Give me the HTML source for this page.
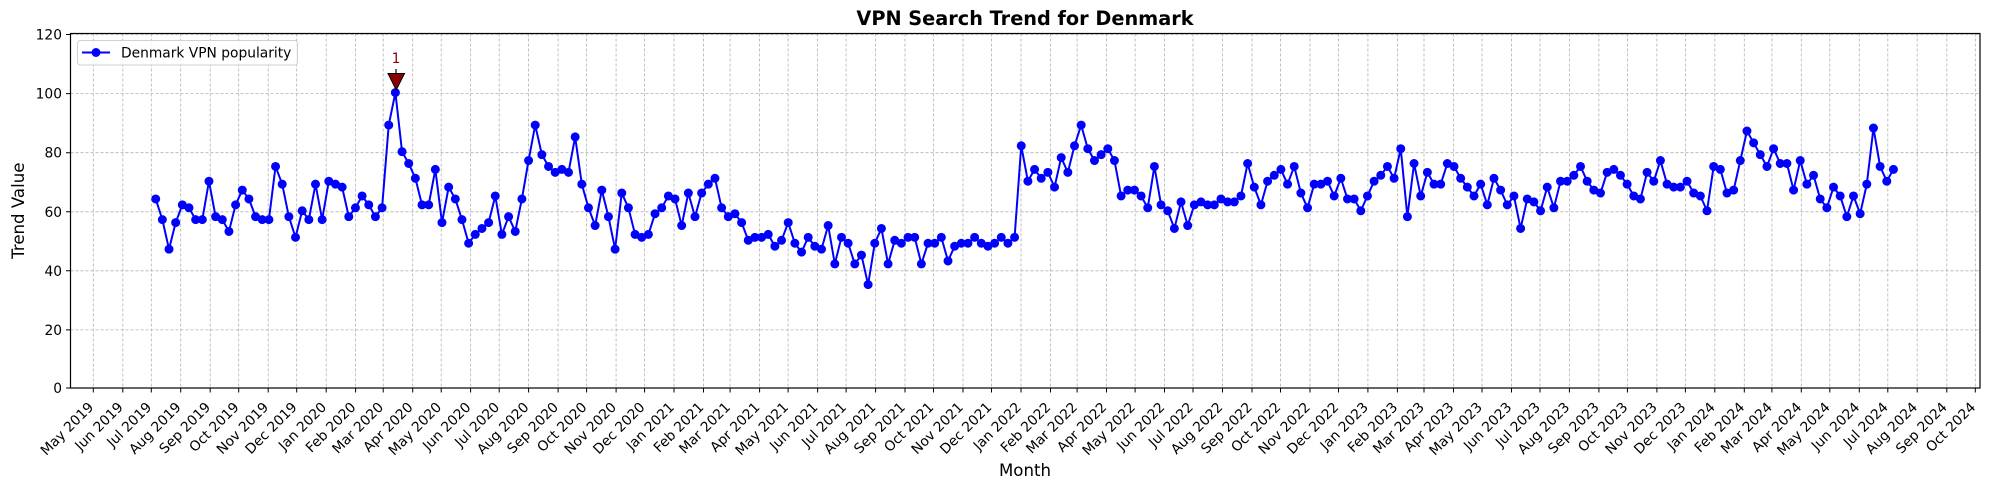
<!DOCTYPE html>
<html><head><meta charset="utf-8"><style>
html,body{margin:0;padding:0;background:#fff;}
svg{display:block;font-family:"DejaVu Sans","Liberation Sans",sans-serif;}
</style></head><body>
<svg width="1990" height="490" viewBox="0 0 1990 490" xmlns="http://www.w3.org/2000/svg">
<rect width="1990" height="490" fill="#fff"/>
<!-- grid -->
<g stroke="#b0b0b0" stroke-width="0.8" stroke-dasharray="3,2" fill="none">
<path d="M70.5 329.9H1980M70.5 270.8H1980M70.5 211.8H1980M70.5 152.7H1980M70.5 93.6H1980M70.5 34.5H1980"/>
<path d="M93.3 33.5V388M122.8 33.5V388M151.3 33.5V388M180.7 33.5V388M210.2 33.5V388M238.7 33.5V388M268.2 33.5V388M296.7 33.5V388M326.2 33.5V388M355.6 33.5V388M383.2 33.5V388M412.7 33.5V388M441.2 33.5V388M470.6 33.5V388M499.2 33.5V388M528.6 33.5V388M558.1 33.5V388M586.6 33.5V388M616.1 33.5V388M644.6 33.5V388M674 33.5V388M703.5 33.5V388M730.1 33.5V388M759.6 33.5V388M788.1 33.5V388M817.6 33.5V388M846.1 33.5V388M875.6 33.5V388M905 33.5V388M933.5 33.5V388M963 33.5V388M991.5 33.5V388M1021 33.5V388M1050.5 33.5V388M1077.1 33.5V388M1106.5 33.5V388M1135.1 33.5V388M1164.5 33.5V388M1193 33.5V388M1222.5 33.5V388M1252 33.5V388M1280.5 33.5V388M1310 33.5V388M1338.5 33.5V388M1367.9 33.5V388M1397.4 33.5V388M1424 33.5V388M1453.5 33.5V388M1482 33.5V388M1511.5 33.5V388M1540 33.5V388M1569.4 33.5V388M1598.9 33.5V388M1627.4 33.5V388M1656.9 33.5V388M1685.4 33.5V388M1714.8 33.5V388M1744.3 33.5V388M1771.9 33.5V388M1801.3 33.5V388M1829.8 33.5V388M1859.3 33.5V388M1887.8 33.5V388M1917.2 33.5V388M1946.8 33.5V388M1975.3 33.5V388"/>
</g>
<!-- series -->
<g transform="translate(155.7,388) scale(6.658,-2.954)">
<polyline fill="none" stroke="#0000ff" stroke-width="2" vector-effect="non-scaling-stroke" stroke-linejoin="round" points="0,64 1,57 2,47 3,56 4,62 5,61 6,57 7,57 8,70 9,58 10,57 11,53 12,62 13,67 14,64 15,58 16,57 17,57 18,75 19,69 20,58 21,51 22,60 23,57 24,69 25,57 26,70 27,69 28,68 29,58 30,61 31,65 32,62 33,58 34,61 35,89 36,100 37,80 38,76 39,71 40,62 41,62 42,74 43,56 44,68 45,64 46,57 47,49 48,52 49,54 50,56 51,65 52,52 53,58 54,53 55,64 56,77 57,89 58,79 59,75 60,73 61,74 62,73 63,85 64,69 65,61 66,55 67,67 68,58 69,47 70,66 71,61 72,52 73,51 74,52 75,59 76,61 77,65 78,64 79,55 80,66 81,58 82,66 83,69 84,71 85,61 86,58 87,59 88,56 89,50 90,51 91,51 92,52 93,48 94,50 95,56 96,49 97,46 98,51 99,48 100,47 101,55 102,42 103,51 104,49 105,42 106,45 107,35 108,49 109,54 110,42 111,50 112,49 113,51 114,51 115,42 116,49 117,49 118,51 119,43 120,48 121,49 122,49 123,51 124,49 125,48 126,49 127,51 128,49 129,51 130,82 131,70 132,74 133,71 134,73 135,68 136,78 137,73 138,82 139,89 140,81 141,77 142,79 143,81 144,77 145,65 146,67 147,67 148,65 149,61 150,75 151,62 152,60 153,54 154,63 155,55 156,62 157,63 158,62 159,62 160,64 161,63 162,63 163,65 164,76 165,68 166,62 167,70 168,72 169,74 170,69 171,75 172,66 173,61 174,69 175,69 176,70 177,65 178,71 179,64 180,64 181,60 182,65 183,70 184,72 185,75 186,71 187,81 188,58 189,76 190,65 191,73 192,69 193,69 194,76 195,75 196,71 197,68 198,65 199,69 200,62 201,71 202,67 203,62 204,65 205,54 206,64 207,63 208,60 209,68 210,61 211,70 212,70 213,72 214,75 215,70 216,67 217,66 218,73 219,74 220,72 221,69 222,65 223,64 224,73 225,70 226,77 227,69 228,68 229,68 230,70 231,66 232,65 233,60 234,75 235,74 236,66 237,67 238,77 239,87 240,83 241,79 242,75 243,81 244,76 245,76 246,67 247,77 248,69 249,72 250,64 251,61 252,68 253,65 254,58 255,65 256,59 257,69 258,88 259,75 260,70 261,74"/>
<path fill="none" stroke="#0000ff" stroke-width="9" stroke-linecap="round" vector-effect="non-scaling-stroke" d="M0 64h0M1 57h0M2 47h0M3 56h0M4 62h0M5 61h0M6 57h0M7 57h0M8 70h0M9 58h0M10 57h0M11 53h0M12 62h0M13 67h0M14 64h0M15 58h0M16 57h0M17 57h0M18 75h0M19 69h0M20 58h0M21 51h0M22 60h0M23 57h0M24 69h0M25 57h0M26 70h0M27 69h0M28 68h0M29 58h0M30 61h0M31 65h0M32 62h0M33 58h0M34 61h0M35 89h0M36 100h0M37 80h0M38 76h0M39 71h0M40 62h0M41 62h0M42 74h0M43 56h0M44 68h0M45 64h0M46 57h0M47 49h0M48 52h0M49 54h0M50 56h0M51 65h0M52 52h0M53 58h0M54 53h0M55 64h0M56 77h0M57 89h0M58 79h0M59 75h0M60 73h0M61 74h0M62 73h0M63 85h0M64 69h0M65 61h0M66 55h0M67 67h0M68 58h0M69 47h0M70 66h0M71 61h0M72 52h0M73 51h0M74 52h0M75 59h0M76 61h0M77 65h0M78 64h0M79 55h0M80 66h0M81 58h0M82 66h0M83 69h0M84 71h0M85 61h0M86 58h0M87 59h0M88 56h0M89 50h0M90 51h0M91 51h0M92 52h0M93 48h0M94 50h0M95 56h0M96 49h0M97 46h0M98 51h0M99 48h0M100 47h0M101 55h0M102 42h0M103 51h0M104 49h0M105 42h0M106 45h0M107 35h0M108 49h0M109 54h0M110 42h0M111 50h0M112 49h0M113 51h0M114 51h0M115 42h0M116 49h0M117 49h0M118 51h0M119 43h0M120 48h0M121 49h0M122 49h0M123 51h0M124 49h0M125 48h0M126 49h0M127 51h0M128 49h0M129 51h0M130 82h0M131 70h0M132 74h0M133 71h0M134 73h0M135 68h0M136 78h0M137 73h0M138 82h0M139 89h0M140 81h0M141 77h0M142 79h0M143 81h0M144 77h0M145 65h0M146 67h0M147 67h0M148 65h0M149 61h0M150 75h0M151 62h0M152 60h0M153 54h0M154 63h0M155 55h0M156 62h0M157 63h0M158 62h0M159 62h0M160 64h0M161 63h0M162 63h0M163 65h0M164 76h0M165 68h0M166 62h0M167 70h0M168 72h0M169 74h0M170 69h0M171 75h0M172 66h0M173 61h0M174 69h0M175 69h0M176 70h0M177 65h0M178 71h0M179 64h0M180 64h0M181 60h0M182 65h0M183 70h0M184 72h0M185 75h0M186 71h0M187 81h0M188 58h0M189 76h0M190 65h0M191 73h0M192 69h0M193 69h0M194 76h0M195 75h0M196 71h0M197 68h0M198 65h0M199 69h0M200 62h0M201 71h0M202 67h0M203 62h0M204 65h0M205 54h0M206 64h0M207 63h0M208 60h0M209 68h0M210 61h0M211 70h0M212 70h0M213 72h0M214 75h0M215 70h0M216 67h0M217 66h0M218 73h0M219 74h0M220 72h0M221 69h0M222 65h0M223 64h0M224 73h0M225 70h0M226 77h0M227 69h0M228 68h0M229 68h0M230 70h0M231 66h0M232 65h0M233 60h0M234 75h0M235 74h0M236 66h0M237 67h0M238 77h0M239 87h0M240 83h0M241 79h0M242 75h0M243 81h0M244 76h0M245 76h0M246 67h0M247 77h0M248 69h0M249 72h0M250 64h0M251 61h0M252 68h0M253 65h0M254 58h0M255 65h0M256 59h0M257 69h0M258 88h0M259 75h0M260 70h0M261 74h0"/>
</g>
<!-- annotation -->
<line x1="396" y1="69" x2="396" y2="74" stroke="#000" stroke-width="1.2"/>
<polygon points="388,73.5 404.5,73.5 396.2,90" fill="#8b0000" stroke="#000" stroke-width="1"/>
<text x="396" y="63" font-size="13.8" fill="#8b0000" text-anchor="middle">1</text>
<!-- axes frame -->
<rect x="70.5" y="33.5" width="1909.5" height="354.5" fill="none" stroke="#000" stroke-width="1.2"/>
<!-- y ticks -->
<g stroke="#000" stroke-width="1"><path d="M66 388H70.5M66 329.9H70.5M66 270.8H70.5M66 211.8H70.5M66 152.7H70.5M66 93.6H70.5M66 34.5H70.5"/></g>
<g font-size="13.8" fill="#000" text-anchor="end">
<text x="62" y="393">0</text><text x="62" y="334.9">20</text><text x="62" y="275.8">40</text><text x="62" y="216.8">60</text><text x="62" y="157.7">80</text><text x="62" y="98.6">100</text><text x="62" y="39.5">120</text>
</g>
<!-- x ticks -->
<g stroke="#000" stroke-width="1"><path d="M93.3 388v4.5M122.8 388v4.5M151.3 388v4.5M180.7 388v4.5M210.2 388v4.5M238.7 388v4.5M268.2 388v4.5M296.7 388v4.5M326.2 388v4.5M355.6 388v4.5M383.2 388v4.5M412.7 388v4.5M441.2 388v4.5M470.6 388v4.5M499.2 388v4.5M528.6 388v4.5M558.1 388v4.5M586.6 388v4.5M616.1 388v4.5M644.6 388v4.5M674 388v4.5M703.5 388v4.5M730.1 388v4.5M759.6 388v4.5M788.1 388v4.5M817.6 388v4.5M846.1 388v4.5M875.6 388v4.5M905 388v4.5M933.5 388v4.5M963 388v4.5M991.5 388v4.5M1021 388v4.5M1050.5 388v4.5M1077.1 388v4.5M1106.5 388v4.5M1135.1 388v4.5M1164.5 388v4.5M1193 388v4.5M1222.5 388v4.5M1252 388v4.5M1280.5 388v4.5M1310 388v4.5M1338.5 388v4.5M1367.9 388v4.5M1397.4 388v4.5M1424 388v4.5M1453.5 388v4.5M1482 388v4.5M1511.5 388v4.5M1540 388v4.5M1569.4 388v4.5M1598.9 388v4.5M1627.4 388v4.5M1656.9 388v4.5M1685.4 388v4.5M1714.8 388v4.5M1744.3 388v4.5M1771.9 388v4.5M1801.3 388v4.5M1829.8 388v4.5M1859.3 388v4.5M1887.8 388v4.5M1917.2 388v4.5M1946.8 388v4.5M1975.3 388v4.5"/></g>
<g font-size="13.8" fill="#000" text-anchor="end">
<text transform="translate(94.3,408) rotate(-45)">May 2019</text>
<text transform="translate(123.8,408) rotate(-45)">Jun 2019</text>
<text transform="translate(152.3,408) rotate(-45)">Jul 2019</text>
<text transform="translate(181.7,408) rotate(-45)">Aug 2019</text>
<text transform="translate(211.2,408) rotate(-45)">Sep 2019</text>
<text transform="translate(239.7,408) rotate(-45)">Oct 2019</text>
<text transform="translate(269.2,408) rotate(-45)">Nov 2019</text>
<text transform="translate(297.7,408) rotate(-45)">Dec 2019</text>
<text transform="translate(327.2,408) rotate(-45)">Jan 2020</text>
<text transform="translate(356.6,408) rotate(-45)">Feb 2020</text>
<text transform="translate(384.2,408) rotate(-45)">Mar 2020</text>
<text transform="translate(413.7,408) rotate(-45)">Apr 2020</text>
<text transform="translate(442.2,408) rotate(-45)">May 2020</text>
<text transform="translate(471.6,408) rotate(-45)">Jun 2020</text>
<text transform="translate(500.2,408) rotate(-45)">Jul 2020</text>
<text transform="translate(529.6,408) rotate(-45)">Aug 2020</text>
<text transform="translate(559.1,408) rotate(-45)">Sep 2020</text>
<text transform="translate(587.6,408) rotate(-45)">Oct 2020</text>
<text transform="translate(617.1,408) rotate(-45)">Nov 2020</text>
<text transform="translate(645.6,408) rotate(-45)">Dec 2020</text>
<text transform="translate(675,408) rotate(-45)">Jan 2021</text>
<text transform="translate(704.5,408) rotate(-45)">Feb 2021</text>
<text transform="translate(731.1,408) rotate(-45)">Mar 2021</text>
<text transform="translate(760.6,408) rotate(-45)">Apr 2021</text>
<text transform="translate(789.1,408) rotate(-45)">May 2021</text>
<text transform="translate(818.6,408) rotate(-45)">Jun 2021</text>
<text transform="translate(847.1,408) rotate(-45)">Jul 2021</text>
<text transform="translate(876.6,408) rotate(-45)">Aug 2021</text>
<text transform="translate(906,408) rotate(-45)">Sep 2021</text>
<text transform="translate(934.5,408) rotate(-45)">Oct 2021</text>
<text transform="translate(964,408) rotate(-45)">Nov 2021</text>
<text transform="translate(992.5,408) rotate(-45)">Dec 2021</text>
<text transform="translate(1022,408) rotate(-45)">Jan 2022</text>
<text transform="translate(1051.5,408) rotate(-45)">Feb 2022</text>
<text transform="translate(1078.1,408) rotate(-45)">Mar 2022</text>
<text transform="translate(1107.5,408) rotate(-45)">Apr 2022</text>
<text transform="translate(1136.1,408) rotate(-45)">May 2022</text>
<text transform="translate(1165.5,408) rotate(-45)">Jun 2022</text>
<text transform="translate(1194,408) rotate(-45)">Jul 2022</text>
<text transform="translate(1223.5,408) rotate(-45)">Aug 2022</text>
<text transform="translate(1253,408) rotate(-45)">Sep 2022</text>
<text transform="translate(1281.5,408) rotate(-45)">Oct 2022</text>
<text transform="translate(1311,408) rotate(-45)">Nov 2022</text>
<text transform="translate(1339.5,408) rotate(-45)">Dec 2022</text>
<text transform="translate(1368.9,408) rotate(-45)">Jan 2023</text>
<text transform="translate(1398.4,408) rotate(-45)">Feb 2023</text>
<text transform="translate(1425,408) rotate(-45)">Mar 2023</text>
<text transform="translate(1454.5,408) rotate(-45)">Apr 2023</text>
<text transform="translate(1483,408) rotate(-45)">May 2023</text>
<text transform="translate(1512.5,408) rotate(-45)">Jun 2023</text>
<text transform="translate(1541,408) rotate(-45)">Jul 2023</text>
<text transform="translate(1570.4,408) rotate(-45)">Aug 2023</text>
<text transform="translate(1599.9,408) rotate(-45)">Sep 2023</text>
<text transform="translate(1628.4,408) rotate(-45)">Oct 2023</text>
<text transform="translate(1657.9,408) rotate(-45)">Nov 2023</text>
<text transform="translate(1686.4,408) rotate(-45)">Dec 2023</text>
<text transform="translate(1715.8,408) rotate(-45)">Jan 2024</text>
<text transform="translate(1745.3,408) rotate(-45)">Feb 2024</text>
<text transform="translate(1772.9,408) rotate(-45)">Mar 2024</text>
<text transform="translate(1802.3,408) rotate(-45)">Apr 2024</text>
<text transform="translate(1830.8,408) rotate(-45)">May 2024</text>
<text transform="translate(1860.3,408) rotate(-45)">Jun 2024</text>
<text transform="translate(1888.8,408) rotate(-45)">Jul 2024</text>
<text transform="translate(1918.2,408) rotate(-45)">Aug 2024</text>
<text transform="translate(1947.8,408) rotate(-45)">Sep 2024</text>
<text transform="translate(1976.3,408) rotate(-45)">Oct 2024</text>
</g>
<!-- labels -->
<text x="1025" y="25" font-size="19.3" font-weight="bold" text-anchor="middle" fill="#000">VPN Search Trend for Denmark</text>
<text x="1025" y="476" font-size="16.6" text-anchor="middle" fill="#000">Month</text>
<text transform="translate(24,210.7) rotate(-90)" font-size="16.6" text-anchor="middle" fill="#000">Trend Value</text>
<!-- legend -->
<rect x="77.5" y="40.5" width="220" height="24.5" rx="3" fill="#fff" fill-opacity="0.8" stroke="#d0d0d0" stroke-width="1"/>
<line x1="82" y1="52.5" x2="110" y2="52.5" stroke="#0000ff" stroke-width="2"/>
<circle cx="96" cy="52.5" r="4.5" fill="#0000ff"/>
<text x="121" y="57.5" font-size="13.8" fill="#000">Denmark VPN popularity</text>
</svg>
</body></html>
